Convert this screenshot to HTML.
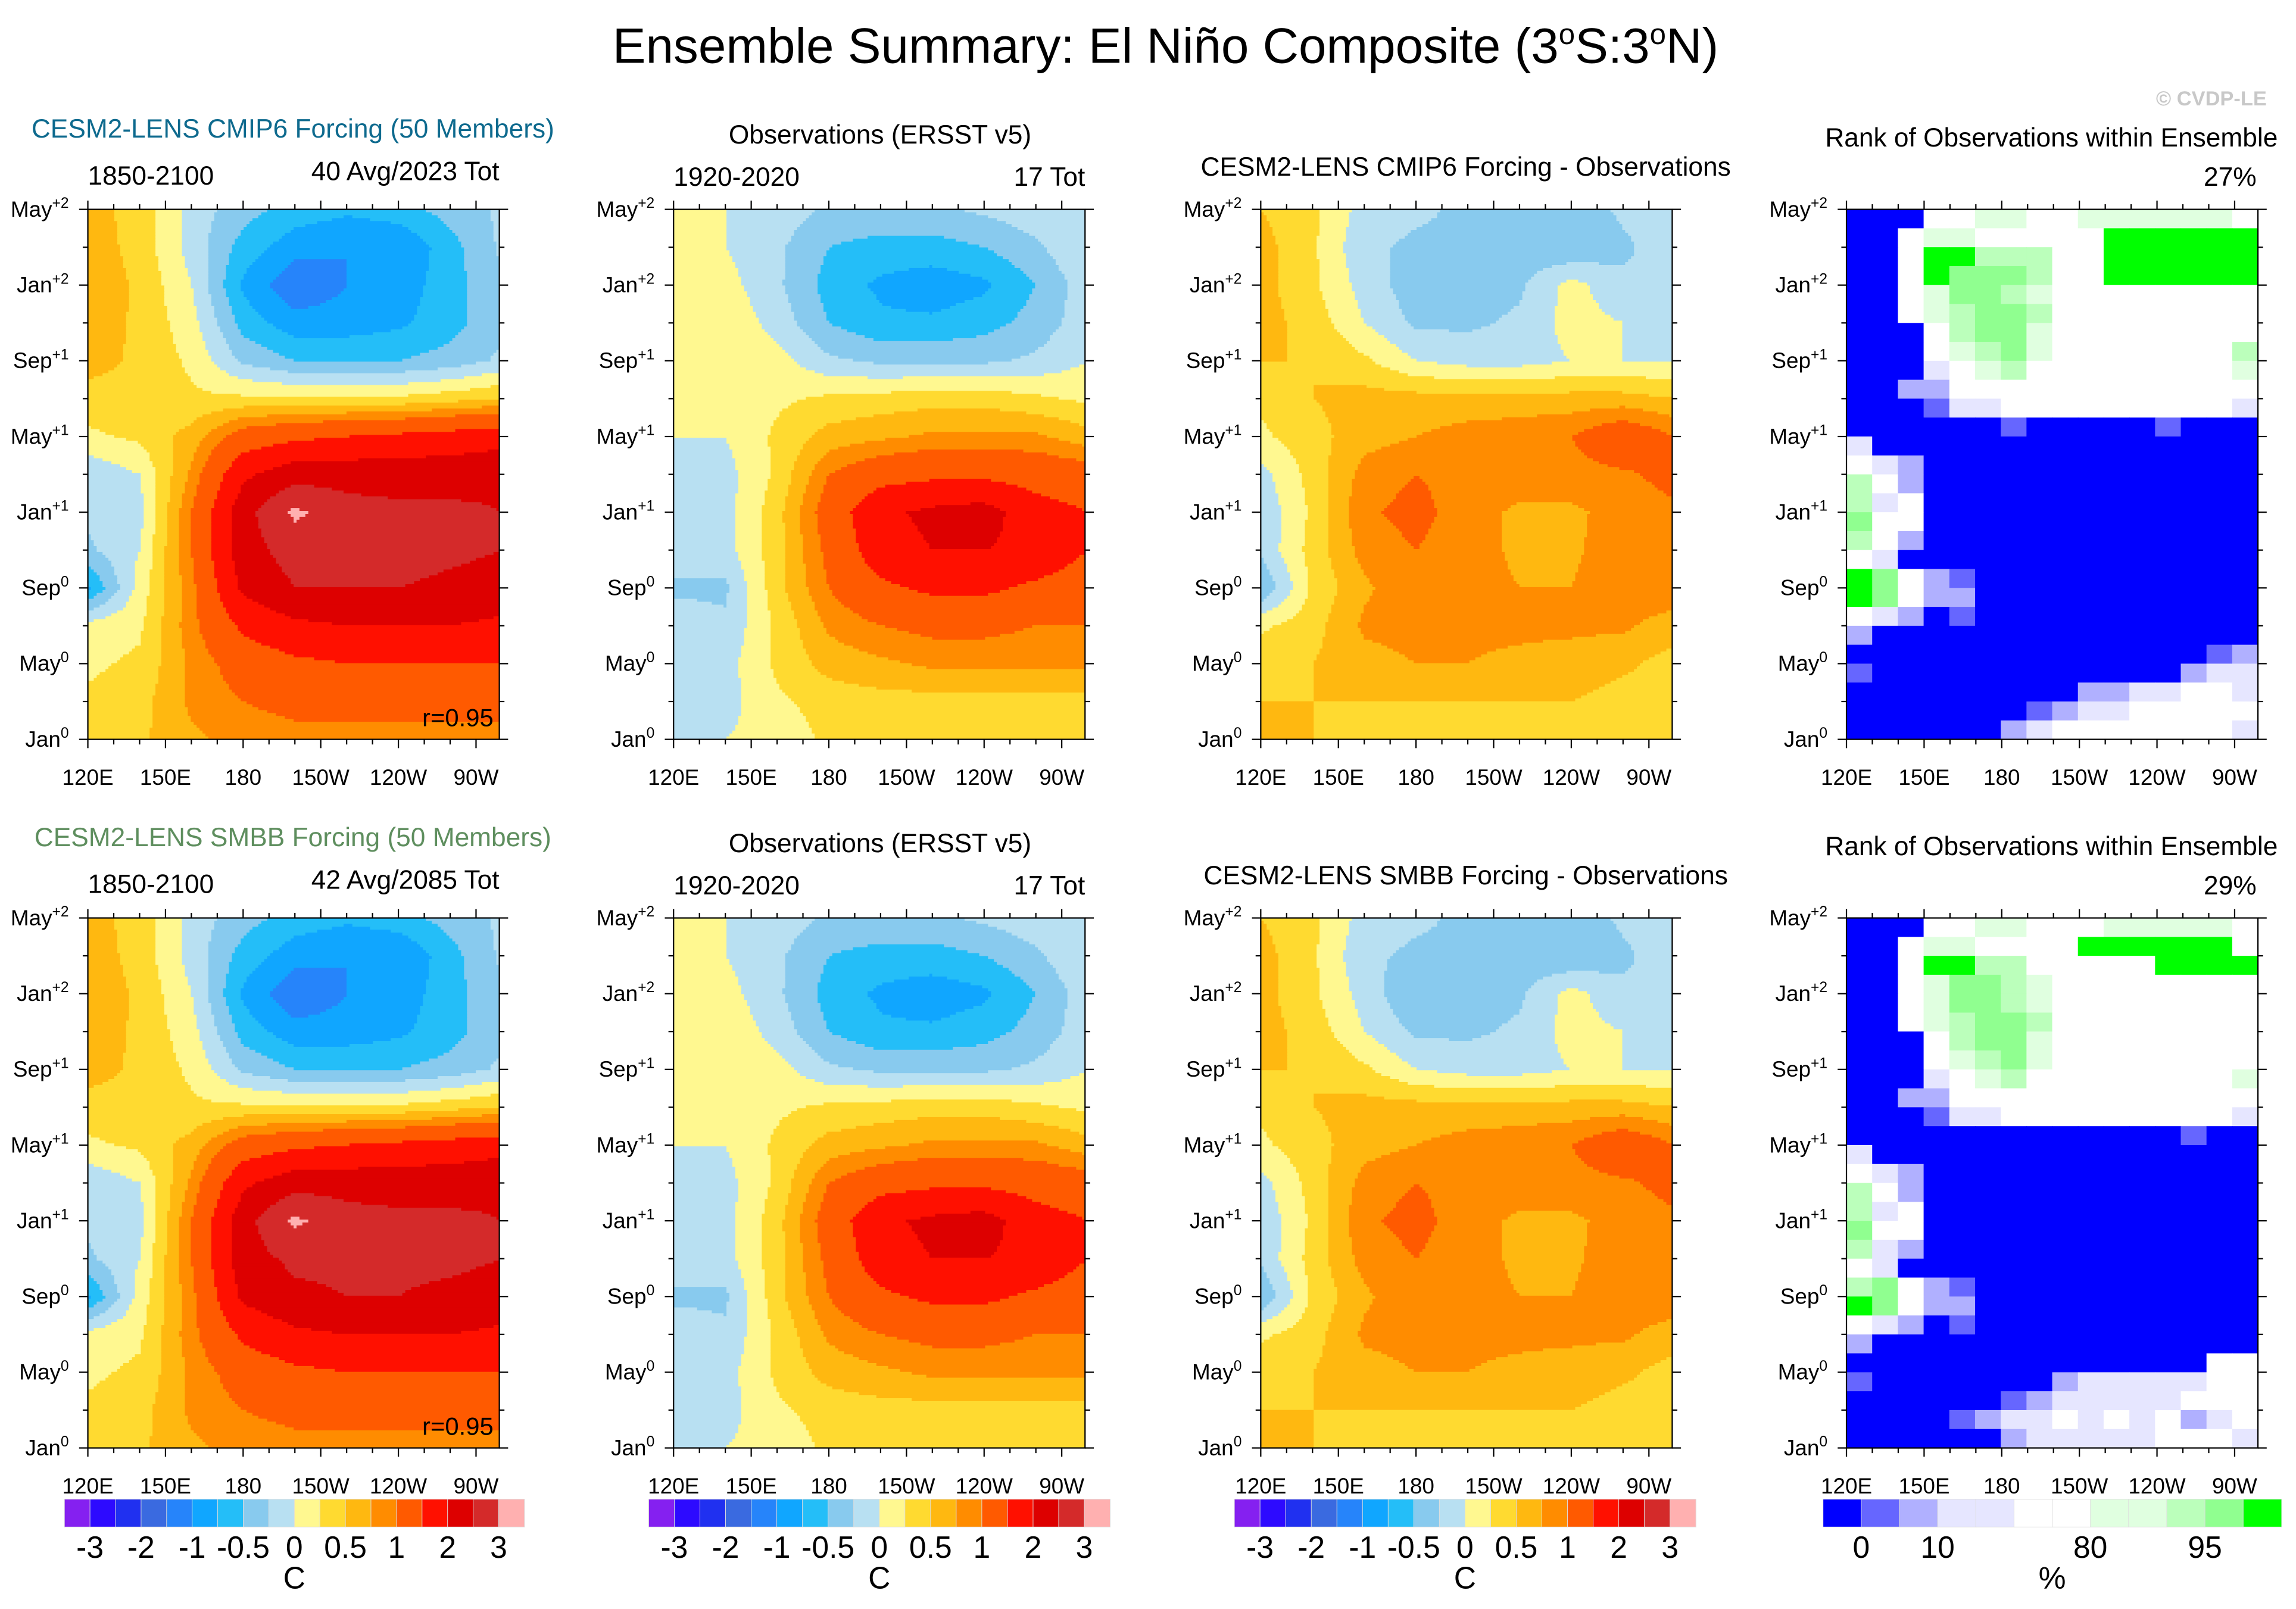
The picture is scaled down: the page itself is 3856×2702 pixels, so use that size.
<!DOCTYPE html>
<html><head><meta charset="utf-8"><style>
html,body{margin:0;padding:0;background:#fff}
svg{display:block;font-family:"Liberation Sans",Arial,sans-serif}
</style></head><body>
<svg id="fig" xmlns="http://www.w3.org/2000/svg" width="3856" height="2702" viewBox="0 0 1568 1099" preserveAspectRatio="none">
<rect x="0" y="0" width="1568" height="1099" fill="#fff"/>
<text x="796" y="43" font-size="34" text-anchor="middle">Ensemble Summary: El Niño Composite (3<tspan font-size="20" dy="-13">o</tspan><tspan dy="13">S:3</tspan><tspan font-size="20" dy="-13">o</tspan><tspan dy="13">N)</tspan></text>
<text x="1548" y="72" font-size="14" text-anchor="end" fill="#c8c8c8" font-weight="bold">© CVDP-LE</text>
<g id="panels"></g>
</svg>
<script>
// ---------- DATA ----------
const lonNodes = [120,140,160,180,200,220,240,260,280];
const monthNodes = [0,2,4,6,8,10,12,14,16,18,20,22,24,26,28];
const levels = [-3,-2.5,-2,-1.5,-1,-0.75,-0.5,-0.25,0,0.25,0.5,0.75,1,1.5,2,2.5,3];
const levelColors = ["#8520f0","#2d0aff","#2030f0","#3a6ae0","#2684fa","#10a6ff","#24bef8","#88caee","#b8e0f2","#fff890","#ffda30","#ffb810","#ff8c00","#ff5a00","#ff1000","#dd0000","#d42a2a","#ffb0b0"];
const cbLabels = ["-3","-2","-1","-0.5","0","0.5","1","2","3"];
const cbLabelIdx = [1,3,5,7,9,11,13,15,17];
const xTickLons = [120,150,180,210,240,270];
const xTickLabels = ["120E","150E","180","150W","120W","90W"];
const yTickMonths = [0,4,8,12,16,20,24,28];
const yTickNames = ["Jan","May","Sep","Jan","May","Sep","Jan","May"];
const yTickSups = ["0","0","0","+1","+1","+1","+2","+2"];
const rankColors = ["#0000ff","#6666ff","#b0b0ff","#e6e6ff","#ffffff","#e0ffe0","#bbffbb","#90ff90","#00ff00"];
const rankLabels = ["0","10","80","95"];
const rankLabelIdx = [1,3,5,8];

// rows from Jan0 (bottom) to May+2 (top)
const modelCmip6 = [
[0.4,0.45,0.7,0.85,0.9,0.9,0.9,0.9,0.9],
[0.3,0.4,0.8,1.0,1.1,1.1,1.1,1.1,1.1],
[0.2,0.3,0.8,1.2,1.4,1.5,1.5,1.5,1.5],
[0.1,0.2,0.9,1.6,1.9,2.0,2.0,2.0,1.9],
[-0.8,0.1,0.9,2.1,2.5,2.5,2.5,2.4,2.3],
[-0.3,0.0,1.0,2.3,2.7,2.7,2.7,2.6,2.5],
[-0.2,-0.1,1.0,2.3,3.1,2.7,2.6,2.6,2.5],
[-0.2,0.0,0.8,1.9,2.3,2.3,2.3,2.3,2.4],
[0.2,0.3,0.6,1.2,1.4,1.5,1.6,1.7,1.8],
[0.4,0.4,0.3,0.3,0.3,0.3,0.3,0.4,0.5],
[0.6,0.45,0.2,-0.3,-0.5,-0.5,-0.5,-0.4,-0.2],
[0.65,0.45,0.1,-0.6,-0.9,-0.9,-0.8,-0.6,-0.3],
[0.7,0.45,0.0,-0.8,-1.2,-1.0,-0.9,-0.6,-0.3],
[0.65,0.4,-0.1,-0.6,-0.9,-1.0,-1.0,-0.6,-0.2],
[0.6,0.4,-0.1,-0.4,-0.6,-0.7,-0.6,-0.4,-0.2]];
const obsComposite = [
[-0.1,0.0,0.1,0.3,0.3,0.3,0.3,0.3,0.3],
[-0.1,-0.1,0.2,0.35,0.4,0.4,0.4,0.4,0.4],
[-0.1,-0.1,0.3,0.6,0.7,0.8,0.8,0.8,0.8],
[-0.1,-0.2,0.3,0.8,1.0,1.1,1.1,1.0,1.0],
[-0.3,-0.3,0.4,1.0,1.4,1.6,1.6,1.4,1.2],
[-0.1,-0.1,0.4,1.1,1.8,2.0,2.0,1.9,1.5],
[-0.1,-0.1,0.4,1.2,1.9,2.1,2.2,1.7,1.5],
[-0.1,-0.1,0.3,1.0,1.3,1.4,1.4,1.3,1.2],
[0.0,0.0,0.3,0.6,0.7,0.8,0.8,0.8,0.6],
[0.1,0.1,0.2,0.3,0.35,0.4,0.4,0.3,0.2],
[0.2,0.2,0.1,-0.2,-0.3,-0.3,-0.3,-0.2,0.0],
[0.2,0.2,-0.1,-0.5,-0.7,-0.7,-0.6,-0.4,-0.1],
[0.2,0.1,-0.2,-0.6,-0.8,-0.9,-0.8,-0.5,-0.1],
[0.1,0.0,-0.2,-0.5,-0.6,-0.6,-0.5,-0.3,0.0],
[0.1,0.0,-0.1,-0.3,-0.3,-0.3,-0.2,-0.1,-0.1]];
const diffCmip6 = [
[0.6,0.5,0.4,0.4,0.3,0.3,0.3,0.3,0.5],
[0.5,0.5,0.5,0.5,0.5,0.5,0.5,0.4,0.4],
[0.4,0.5,0.65,0.75,0.75,0.7,0.65,0.55,0.4],
[0.2,0.4,0.8,0.85,0.8,0.8,0.8,0.8,0.6],
[-0.5,0.3,0.7,0.95,0.85,0.75,0.75,0.95,0.95],
[-0.2,0.35,0.85,1.0,0.85,0.7,0.7,0.9,0.95],
[-0.2,0.3,0.95,1.1,0.85,0.7,0.7,0.85,0.95],
[-0.1,0.35,0.85,1.0,0.9,0.9,0.9,0.95,1.1],
[0.2,0.4,0.65,0.75,0.85,0.9,1.0,1.3,1.0],
[0.3,0.5,0.6,0.6,0.6,0.6,0.6,0.6,0.5],
[0.5,0.5,0.3,0.0,-0.1,-0.1,0.0,0.0,0.0],
[0.6,0.4,0.0,-0.3,-0.3,-0.2,0.1,0.0,-0.1],
[0.6,0.3,-0.1,-0.4,-0.4,-0.3,0.1,-0.2,-0.2],
[0.6,0.3,-0.2,-0.3,-0.3,-0.4,-0.5,-0.3,-0.1],
[0.5,0.3,-0.1,-0.2,-0.3,-0.3,-0.4,-0.2,-0.1]];
const modelSmbb = [
[0.4,0.45,0.7,0.85,0.9,0.9,0.9,0.9,0.9],
[0.3,0.4,0.8,1.0,1.1,1.1,1.1,1.1,1.1],
[0.2,0.3,0.8,1.2,1.4,1.5,1.5,1.5,1.5],
[0.1,0.2,0.9,1.6,1.9,2.0,2.0,2.0,1.9],
[-0.8,0.1,0.9,2.1,2.4,2.5,2.5,2.4,2.3],
[-0.3,0.0,1.0,2.3,2.6,2.6,2.6,2.6,2.5],
[-0.2,-0.1,1.0,2.3,3.1,2.7,2.6,2.6,2.5],
[-0.2,0.0,0.8,1.9,2.3,2.3,2.3,2.3,2.4],
[0.2,0.3,0.6,1.2,1.4,1.5,1.6,1.7,1.8],
[0.4,0.4,0.3,0.3,0.3,0.3,0.3,0.4,0.5],
[0.6,0.45,0.2,-0.3,-0.5,-0.5,-0.5,-0.4,-0.2],
[0.65,0.45,0.1,-0.6,-0.9,-0.9,-0.8,-0.6,-0.3],
[0.7,0.45,0.0,-0.8,-1.2,-1.0,-0.9,-0.6,-0.3],
[0.65,0.4,-0.1,-0.6,-0.9,-1.0,-1.0,-0.6,-0.2],
[0.6,0.4,-0.1,-0.4,-0.6,-0.7,-0.6,-0.4,-0.2]];
const obsComposite2 = obsComposite.map(r => r.slice());
const diffSmbb = [
[0.6,0.5,0.4,0.4,0.3,0.3,0.3,0.3,0.5],
[0.5,0.5,0.5,0.5,0.5,0.5,0.5,0.4,0.4],
[0.4,0.5,0.65,0.75,0.75,0.7,0.65,0.55,0.4],
[0.2,0.4,0.8,0.85,0.8,0.8,0.8,0.8,0.6],
[-0.5,0.3,0.7,0.95,0.85,0.75,0.75,0.95,0.95],
[-0.2,0.35,0.85,1.0,0.85,0.7,0.7,0.9,0.95],
[-0.2,0.3,0.95,1.1,0.85,0.7,0.7,0.85,0.95],
[-0.1,0.35,0.85,1.0,0.9,0.9,0.9,0.95,1.1],
[0.2,0.4,0.65,0.75,0.85,0.9,1.0,1.3,1.0],
[0.3,0.5,0.6,0.6,0.6,0.6,0.6,0.6,0.5],
[0.5,0.5,0.3,0.0,-0.1,-0.1,0.0,0.0,0.0],
[0.6,0.4,0.0,-0.3,-0.3,-0.2,0.1,0.0,-0.1],
[0.6,0.3,-0.1,-0.5,-0.4,-0.3,0.1,-0.2,-0.2],
[0.6,0.3,-0.2,-0.3,-0.3,-0.4,-0.5,-0.3,-0.1],
[0.5,0.3,-0.1,-0.2,-0.3,-0.3,-0.4,-0.2,-0.1]];
// rank classes, rows from May+2 (top) to Jan0 (bottom), 16 columns of 10 deg
const rankCmip6 = [
"0004455445555554","0045544444888888","0048866644888888","0048777644888888",
"0045776544444444","0045677644444444","0004677544444444","0004567544444446",
"0003456444444445","0022444444444444","0001334444444443","0000001000001000",
"3000000000000000","4320000000000000","6420000000000000","6340000000000000",
"7440000000000000","6420000000000000","4300000000000000","8742100000000000",
"8742200000000000","4320100000000000","2000000000000000","0000000000000012",
"1000000000000233","0000000002233443","0000000123344444","0000002344444443"];
const rankSmbb = [
"0004455444555554","0045544448888884","0048866444448888","0045776544444444",
"0045776544444444","0045677644444444","0004677544444444","0004567544444444",
"0003456444444445","0022444444444444","0001334444444443","0000000000000100",
"3000000000000000","4320000000000000","6420000000000000","6340000000000000",
"7440000000000000","6320000000000000","4300000000000000","6742100000000000",
"8742200000000000","4320100000000000","2000000000000000","0000000000000044",
"1000000023333344","0000001233333444","0000123343434234","0000002333334443"];

// ---------- LAYOUT ----------
const NS = "http://www.w3.org/2000/svg";
const root = document.getElementById("panels");
const PX = [60,460,861,1261], PW = 281, PY = [143,627], PH = 362;
const LON0 = 120, LON1 = 279, MONTHS = 28;
function mk(tag, attrs, parent){ const e=document.createElementNS(NS,tag); for(const k in attrs) e.setAttribute(k,attrs[k]); (parent||root).appendChild(e); return e; }
function xOf(px, lon){ return px + (lon-LON0)/(LON1-LON0)*PW; }
function yOf(py, m){ return py + PH - m/MONTHS*PH; }
function colorFor(v){ let i=0; while(i<levels.length && v>=levels[i]) i++; return levelColors[i]; }
function sample(grid, lon, m){
  let fi=(lon-lonNodes[0])/(lonNodes[1]-lonNodes[0]); let fj=(m-monthNodes[0])/(monthNodes[1]-monthNodes[0]);
  fi=Math.max(0,Math.min(lonNodes.length-1.0001,fi)); fj=Math.max(0,Math.min(monthNodes.length-1.0001,fj));
  const i=Math.floor(fi), j=Math.floor(fj), a=fi-i, b=fj-j;
  return grid[j][i]*(1-a)*(1-b)+grid[j][i+1]*a*(1-b)+grid[j+1][i]*(1-a)*b+grid[j+1][i+1]*a*b;
}
function txt(x,y,s,size,anchor,parent,fill){ const t=mk("text",{x:x,y:y,"font-size":size,"text-anchor":anchor||"start",fill:fill||"#000"},parent); t.textContent=s; return t; }

function drawContour(px, py, grid, name){
  const g = mk("g",{});
  
  
  const NX=140, NY=181, cw=PW/NX, ch=PH/NY;
  for(let r=0;r<NY;r++){
    const m = MONTHS*(1-(r+0.5)/NY);
    let start=0, cur=colorFor(sample(grid, LON0+(0.5)/NX*(LON1-LON0), m));
    for(let c=1;c<=NX;c++){
      const col = c<NX ? colorFor(sample(grid, LON0+(c+0.5)/NX*(LON1-LON0), m)) : null;
      if(col!==cur){
        const rc = mk("rect",{x:(px+start*cw).toFixed(2),y:(py+r*ch).toFixed(2),width:((c-start)*cw+0.3).toFixed(2),height:(ch+0.3).toFixed(2),fill:cur},g);
        
        
        start=c; cur=col;
      }
    }
  }
}
function drawRank(px, py, rows, name){
  const g = mk("g",{});
  
  
  const nr=rows.length, nc=rows[0].length, cw=PW/nc, ch=PH/nr;
  rows.forEach((row,r)=>{ for(let c=0;c<nc;c++){
    const rc = mk("rect",{x:(px+c*cw).toFixed(2),y:(py+r*ch).toFixed(2),width:(cw+0.3).toFixed(2),height:(ch+0.3).toFixed(2),fill:rankColors[+row[c]]},g);
    
    
  }});
}
function drawAxes(px, py){
  const g = mk("g",{stroke:"#000","stroke-width":0.9,fill:"none"});
  
  
  mk("rect",{x:px,y:py,width:PW,height:PH},g);
  for(let lon=120; lon<=LON1; lon+=10){
    const x=xOf(px,lon), L=(lon%30===0)?6:3.5;
    mk("line",{x1:x,y1:py,x2:x,y2:py-L},g);
    mk("line",{x1:x,y1:py+PH,x2:x,y2:py+PH+L},g);
  }
  for(let m=0;m<=MONTHS;m+=2){
    const y=yOf(py,m), L=(m%4===0)?6:3.5;
    mk("line",{x1:px,y1:y,x2:px-L,y2:y},g);
    mk("line",{x1:px+PW,y1:y,x2:px+PW+L,y2:y},g);
  }
  xTickLons.forEach((lon,i)=>{
    const t=txt(xOf(px,lon), py+PH+31, xTickLabels[i], 15, "middle");
    
    
  });
  yTickMonths.forEach((m,i)=>{
    const t=mk("text",{x:px-13,y:yOf(py,m)+5,"font-size":15,"text-anchor":"end"});
    
    
    t.appendChild(document.createTextNode(yTickNames[i]));
    const s=mk("tspan",{"font-size":10,dy:-6},t); s.textContent=yTickSups[i];
  });
}
function drawColorbar(x0, x1, y0, colors, labels, idx, unit, name){
  const g = mk("g",{});
  
  
  const w=(x1-x0)/colors.length;
  colors.forEach((c,i)=>{ const r=mk("rect",{x:x0+i*w,y:y0,width:w+0.2,height:19,fill:c,stroke:"#ddd","stroke-width":0.4},g);
    
     });
  labels.forEach((l,i)=>{ const t=txt(x0+idx[i]*w, y0+40, l, 21, "middle", g);
    
     });
  const u=txt((x0+x1)/2, y0+61, unit, 21, "middle", g);
  
  
}

const rowsCfg = [
 {py:PY[0], model:modelCmip6, obs:obsComposite, diff:diffCmip6, rank:rankCmip6,
  title:"CESM2-LENS CMIP6 Forcing (50 Members)", tcol:"#0e6a8e", avg:"40 Avg/2023 Tot",
  dtitle:"CESM2-LENS CMIP6 Forcing - Observations", pct:"27%"},
 {py:PY[1], model:modelSmbb, obs:obsComposite2, diff:diffSmbb, rank:rankSmbb,
  title:"CESM2-LENS SMBB Forcing (50 Members)", tcol:"#5e8e5e", avg:"42 Avg/2085 Tot",
  dtitle:"CESM2-LENS SMBB Forcing - Observations", pct:"29%"}];

rowsCfg.forEach((R,ri)=>{
  const py=R.py, off=py-143;
  drawContour(PX[0],py,R.model,"model-composite-map");
  drawContour(PX[1],py,R.obs,"observed-composite-map");
  drawContour(PX[2],py,R.diff,"difference-map");
  drawRank(PX[3],py,R.rank,"rank-map");
  PX.forEach(px=>drawAxes(px,py));
  let t;
  t=txt(200,94+off,R.title,18,"middle",null,R.tcol);  
  t=txt(60,126+off,"1850-2100",18,"start");  
  t=txt(341,123+off,R.avg,18,"end");  
  t=txt(601,98+off,"Observations (ERSST v5)",18,"middle");  
  t=txt(460,127+off,"1920-2020",18,"start");  
  t=txt(741,127+off,"17 Tot",18,"end");  
  t=txt(1001,120+off,R.dtitle,18,"middle");  
  t=txt(1401,100+off,"Rank of Observations within Ensemble",18,"middle");  
  t=txt(1541,127+off,R.pct,18,"end");  
  t=txt(337,496+off,"r=0.95",17,"end");  
});
drawColorbar(44,358,1024,levelColors,cbLabels,cbLabelIdx,"C","colorbar-model");
drawColorbar(443,758,1024,levelColors,cbLabels,cbLabelIdx,"C","colorbar-obs");
drawColorbar(843,1158,1024,levelColors,cbLabels,cbLabelIdx,"C","colorbar-diff");
const rankBoxes=[0,1,2,3,3,4,4,5,5,6,7,8].map(i=>rankColors[i]);
drawColorbar(1245,1558,1024,rankBoxes,rankLabels,[1,3,7,10],"%","colorbar-rank");
</script>
</body></html>
